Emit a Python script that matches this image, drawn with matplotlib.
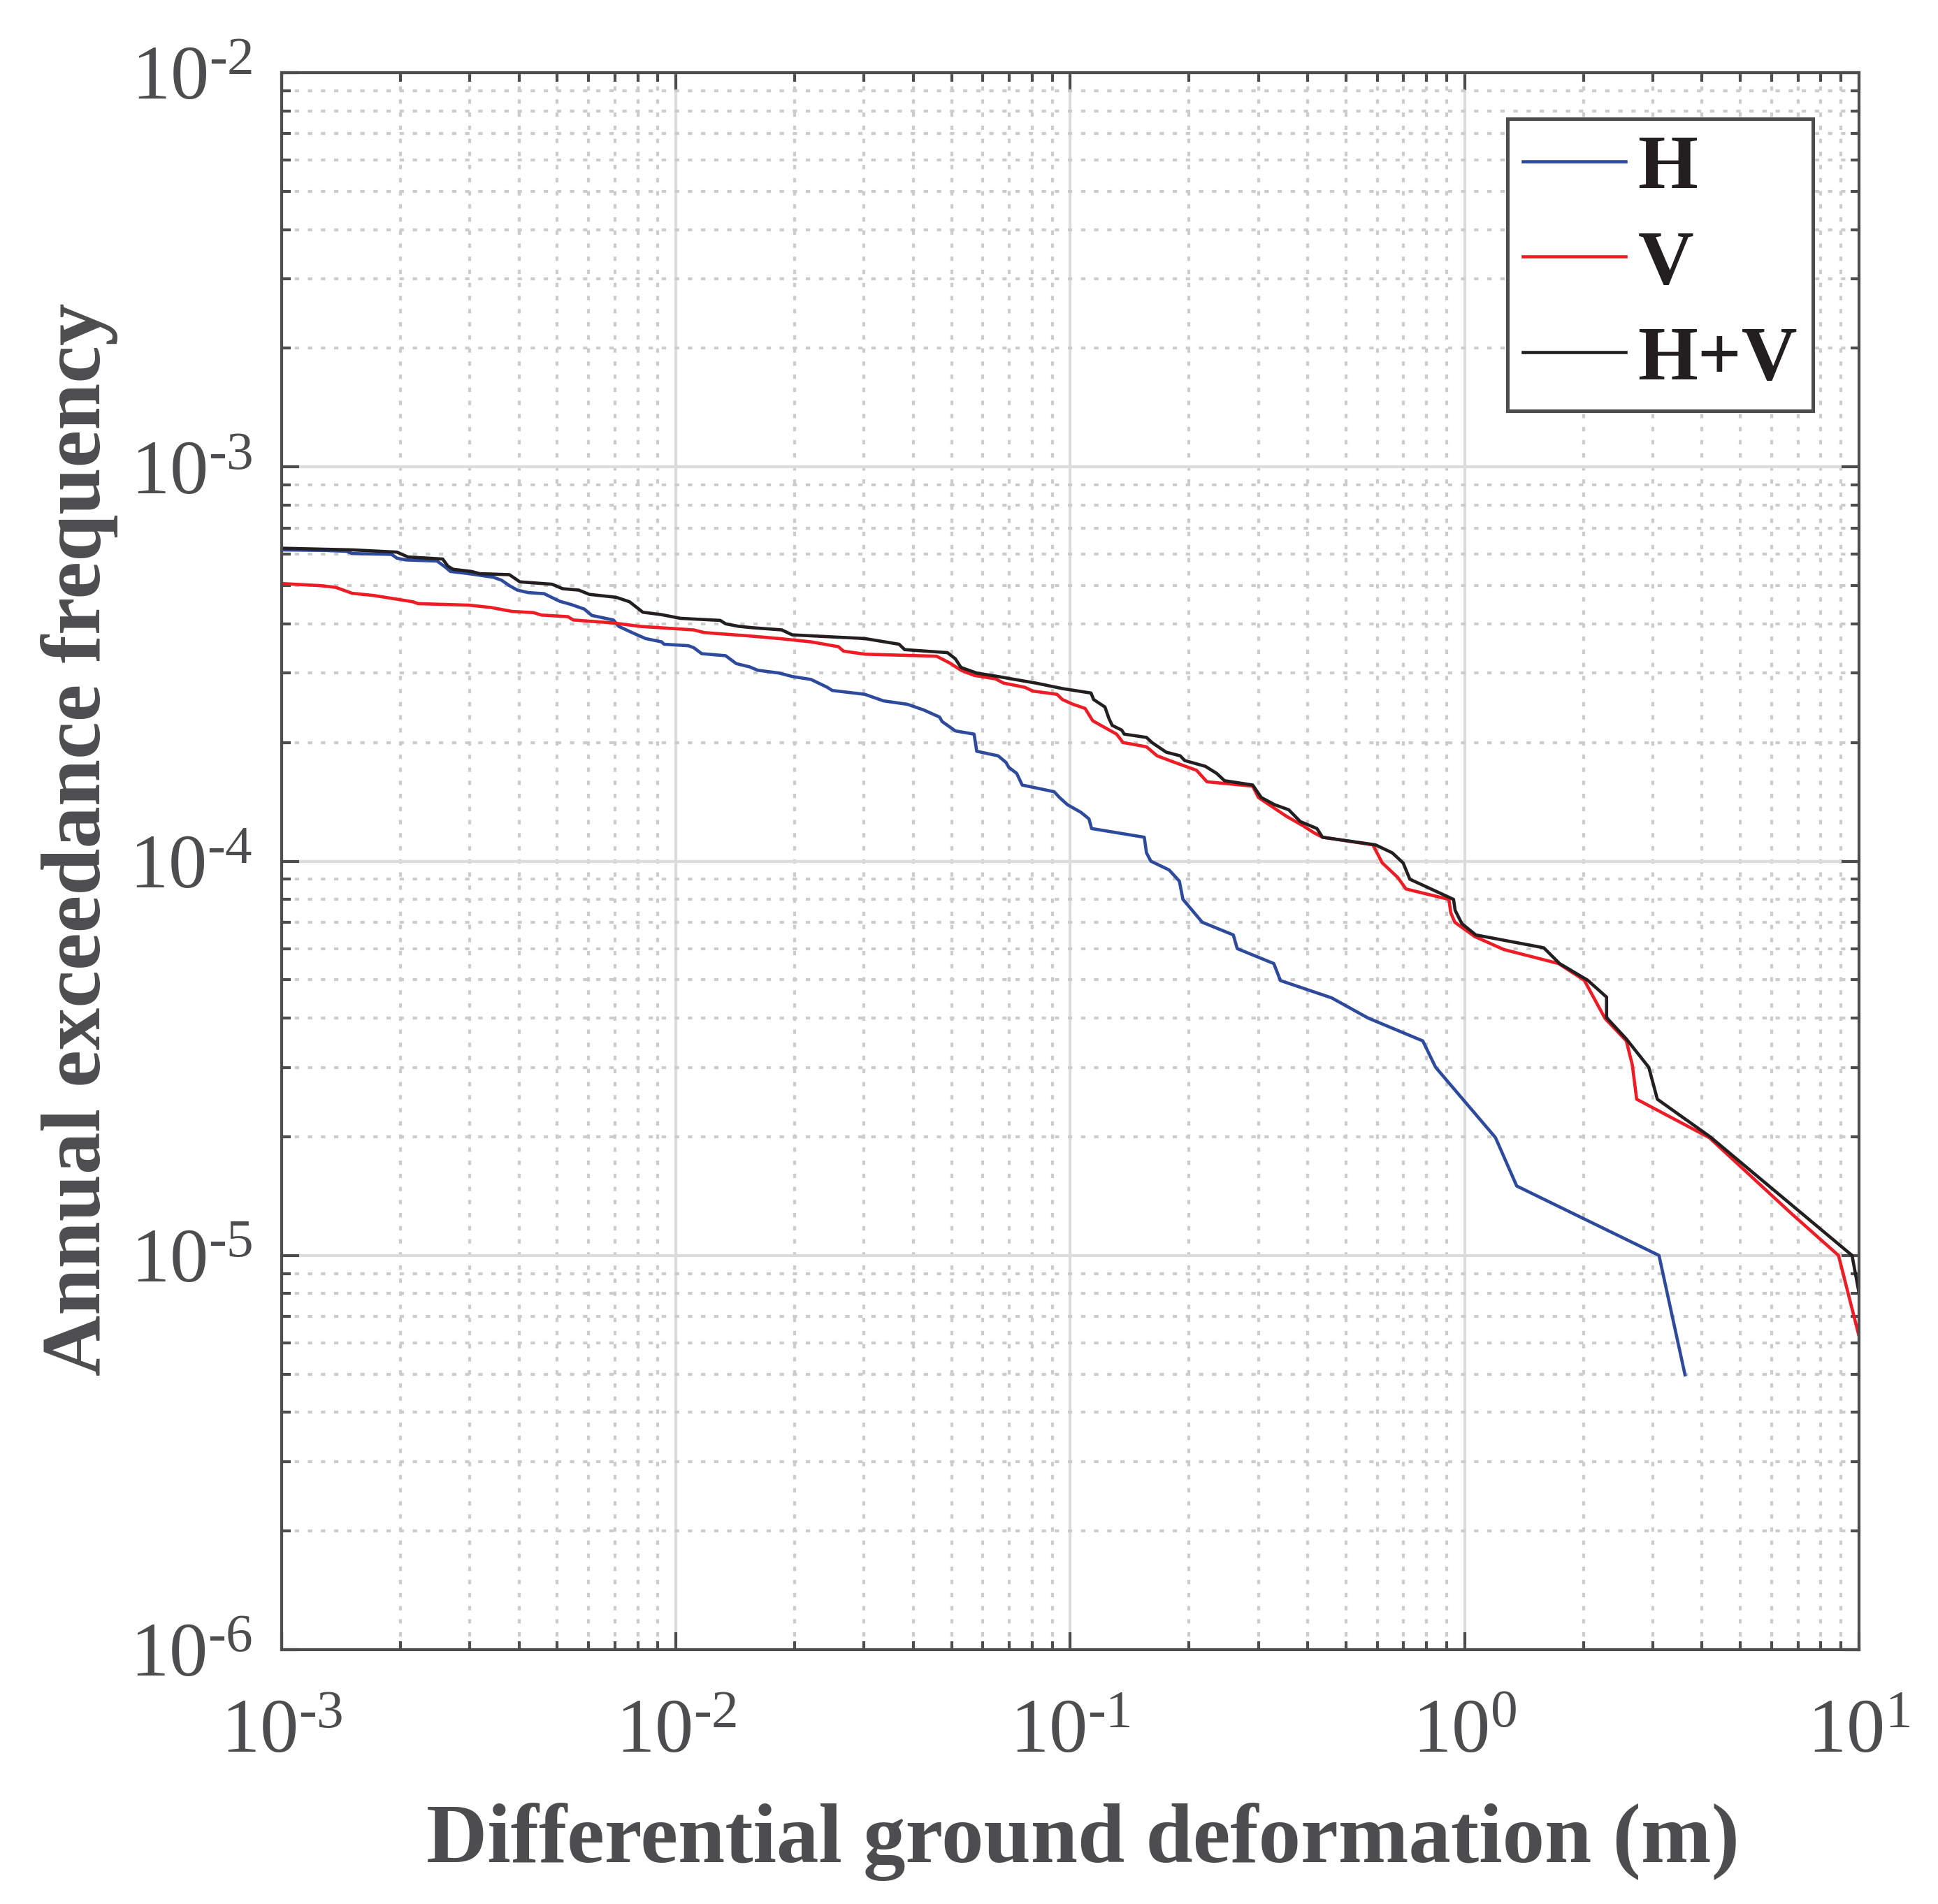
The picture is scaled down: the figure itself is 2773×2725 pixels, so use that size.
import matplotlib
matplotlib.use('Agg')
import matplotlib.pyplot as plt
from matplotlib.ticker import LogLocator, NullFormatter, FuncFormatter
import numpy as np

plt.rcParams['font.family'] = ['Liberation Serif', 'DejaVu Serif']
plt.rcParams['mathtext.fontset'] = 'custom'
plt.rcParams['mathtext.rm'] = 'Liberation Serif'
plt.rcParams['mathtext.it'] = 'Liberation Serif:italic'
plt.rcParams['mathtext.bf'] = 'Liberation Serif:bold'

# ---------------- data ----------------
h_x = [0.001, 0.00129, 0.00146, 0.00151, 0.0019, 0.00196, 0.00206, 0.00248, 0.0026, 0.00268,
       0.00299, 0.00344, 0.00361, 0.00378, 0.00396, 0.00422, 0.00463, 0.00492, 0.00508, 0.00541,
       0.00585, 0.00612, 0.00694, 0.00716, 0.00774, 0.00837, 0.00919, 0.00933, 0.01074, 0.01109,
       0.01162, 0.01336, 0.01422, 0.01538, 0.01611, 0.01827, 0.01972, 0.022, 0.0242, 0.0249,
       0.0301, 0.0336, 0.0386, 0.0424, 0.0466, 0.0473, 0.0511, 0.057, 0.0579, 0.0656,
       0.0687, 0.0698, 0.0731, 0.0755, 0.091, 0.0939, 0.0984, 0.1064, 0.1115, 0.1132,
       0.154, 0.156, 0.160, 0.178, 0.189, 0.193, 0.216, 0.259, 0.265, 0.328,
       0.341, 0.46, 0.569, 0.783, 0.844, 1.197, 1.355, 3.11, 3.62]
h_y = [6.16e-4, 6.14e-4, 6.11e-4, 6.03e-4, 6.00e-4, 5.87e-4, 5.81e-4, 5.77e-4, 5.57e-4, 5.43e-4,
       5.36e-4, 5.25e-4, 5.16e-4, 5.00e-4, 4.87e-4, 4.80e-4, 4.77e-4, 4.63e-4, 4.56e-4, 4.48e-4,
       4.36e-4, 4.20e-4, 4.09e-4, 3.94e-4, 3.80e-4, 3.67e-4, 3.60e-4, 3.55e-4, 3.52e-4, 3.48e-4,
       3.36e-4, 3.32e-4, 3.17e-4, 3.11e-4, 3.05e-4, 3.00e-4, 2.94e-4, 2.89e-4, 2.76e-4, 2.71e-4,
       2.65e-4, 2.55e-4, 2.50e-4, 2.42e-4, 2.32e-4, 2.26e-4, 2.14e-4, 2.10e-4, 1.90e-4, 1.85e-4,
       1.78e-4, 1.73e-4, 1.67e-4, 1.56e-4, 1.50e-4, 1.45e-4, 1.39e-4, 1.33e-4, 1.28e-4, 1.21e-4,
       1.15e-4, 1.05e-4, 1.00e-4, 9.5e-5, 8.9e-5, 8.0e-5, 7.0e-5, 6.5e-5, 6.0e-5, 5.5e-5,
       4.98e-5, 4.5e-5, 4.0e-5, 3.5e-5, 3.0e-5, 1.99e-5, 1.5e-5, 1.0e-5, 4.98e-6]

v_x = [0.001, 0.00125, 0.00137, 0.00151, 0.00171, 0.00193, 0.00215, 0.00222, 0.00299, 0.00339,
       0.00384, 0.00435, 0.00456, 0.00532, 0.00549, 0.00694, 0.00811, 0.01109, 0.0118, 0.01514,
       0.01827, 0.022, 0.0258, 0.0266, 0.0301, 0.0458, 0.0495, 0.0528, 0.057, 0.0646,
       0.0677, 0.0767, 0.0804, 0.0925, 0.0955, 0.1016, 0.109, 0.114, 0.131, 0.136,
       0.156, 0.166, 0.184, 0.209, 0.222, 0.290, 0.300, 0.353, 0.389, 0.415,
       0.436, 0.585, 0.618, 0.676, 0.710, 0.912, 0.922, 0.944, 1.06, 1.256,
       1.73, 2.01, 2.27, 2.57, 2.66, 2.73, 4.17, 6.72, 8.87, 10.0]
v_y = [5.06e-4, 5.00e-4, 4.95e-4, 4.78e-4, 4.72e-4, 4.63e-4, 4.55e-4, 4.50e-4, 4.46e-4, 4.40e-4,
       4.30e-4, 4.27e-4, 4.21e-4, 4.17e-4, 4.09e-4, 4.02e-4, 3.94e-4, 3.86e-4, 3.80e-4, 3.73e-4,
       3.67e-4, 3.60e-4, 3.50e-4, 3.41e-4, 3.35e-4, 3.31e-4, 3.18e-4, 3.05e-4, 2.96e-4, 2.90e-4,
       2.83e-4, 2.76e-4, 2.70e-4, 2.65e-4, 2.57e-4, 2.50e-4, 2.44e-4, 2.27e-4, 2.10e-4, 2.00e-4,
       1.95e-4, 1.85e-4, 1.78e-4, 1.70e-4, 1.59e-4, 1.55e-4, 1.45e-4, 1.30e-4, 1.23e-4, 1.18e-4,
       1.15e-4, 1.10e-4, 9.9e-5, 9.1e-5, 8.5e-5, 8.0e-5, 7.4e-5, 7.0e-5, 6.44e-5, 5.97e-5,
       5.5e-5, 4.99e-5, 3.99e-5, 3.5e-5, 3.05e-5, 2.49e-5, 1.99e-5, 1.28e-5, 1.0e-5, 6.24e-6]

hv_x = [0.001, 0.00151, 0.00196, 0.00209, 0.00256, 0.00264, 0.00272, 0.00303, 0.00318, 0.00378,
        0.00402, 0.00485, 0.00516, 0.00567, 0.00603, 0.00705, 0.00762, 0.00824, 0.00919, 0.01026,
        0.01295, 0.01336, 0.01445, 0.01563, 0.01854, 0.01972, 0.0301, 0.0368, 0.038, 0.0488,
        0.0511, 0.0528, 0.0579, 0.0656, 0.0709, 0.0817, 0.0955, 0.1128, 0.1146, 0.1224,
        0.1253, 0.1277, 0.135, 0.137, 0.156, 0.161, 0.175, 0.190, 0.195, 0.220,
        0.235, 0.246, 0.290, 0.305, 0.330, 0.358, 0.383, 0.422, 0.436, 0.594,
        0.655, 0.698, 0.726, 0.937, 0.946, 0.984, 1.067, 1.587, 1.74, 2.05,
        2.29, 2.29, 2.57, 2.93, 3.08, 4.19, 9.6, 10.0]
hv_y = [6.22e-4, 6.16e-4, 6.08e-4, 5.91e-4, 5.84e-4, 5.60e-4, 5.50e-4, 5.43e-4, 5.36e-4, 5.33e-4,
        5.11e-4, 5.04e-4, 4.91e-4, 4.87e-4, 4.75e-4, 4.67e-4, 4.55e-4, 4.28e-4, 4.22e-4, 4.13e-4,
        4.08e-4, 4.00e-4, 3.94e-4, 3.91e-4, 3.86e-4, 3.75e-4, 3.67e-4, 3.55e-4, 3.44e-4, 3.38e-4,
        3.26e-4, 3.10e-4, 3.00e-4, 2.94e-4, 2.90e-4, 2.83e-4, 2.74e-4, 2.67e-4, 2.57e-4, 2.46e-4,
        2.30e-4, 2.21e-4, 2.15e-4, 2.10e-4, 2.06e-4, 2.00e-4, 1.89e-4, 1.85e-4, 1.80e-4, 1.74e-4,
        1.67e-4, 1.60e-4, 1.56e-4, 1.45e-4, 1.39e-4, 1.35e-4, 1.26e-4, 1.21e-4, 1.15e-4, 1.10e-4,
        1.05e-4, 9.9e-5, 9.0e-5, 8.0e-5, 7.5e-5, 6.94e-5, 6.5e-5, 6.03e-5, 5.5e-5, 4.99e-5,
        4.52e-5, 4.01e-5, 3.54e-5, 3.0e-5, 2.49e-5, 2.0e-5, 1.0e-5, 8.03e-6]

series_labels = ['H', 'V', 'H+V']
x_label = 'Differential ground deformation (m)'
y_label = 'Annual exceedance frequency'

# ---------------- figure ----------------
W, H = 2773, 2725
fig = plt.figure(figsize=(W / 300, H / 300), dpi=300)
ax = fig.add_axes([403 / W, 1 - 2361 / H, 2257 / W, 2257 / H])

gray = '#4d4d4f'
ax.plot(h_x, h_y, color='#2e4a9d', lw=1.1, label=series_labels[0])
ax.plot(v_x, v_y, color='#ee1c24', lw=1.1, label=series_labels[1])
ax.plot(hv_x, hv_y, color='#231f20', lw=1.1, label=series_labels[2])

ax.set_xscale('log')
ax.set_yscale('log')
ax.set_xlim(1e-3, 1e1)
ax.set_ylim(1e-6, 1e-2)


def pow_label(v, pos):
    n = int(round(np.log10(v)))
    if n < 0:
        return '$10^{\u2010' + str(-n) + '}$'
    return '$10^{' + str(n) + '}$'


for axis in (ax.xaxis, ax.yaxis):
    axis.set_major_locator(LogLocator(base=10, numticks=20))
    axis.set_minor_locator(LogLocator(base=10, subs=np.arange(2, 10), numticks=20))
    axis.set_minor_formatter(NullFormatter())
    axis.set_major_formatter(FuncFormatter(pow_label))

ax.grid(which='major', color='#dcdcdc', lw=1.0, ls='-')
ax.grid(which='minor', color='#cccccc', lw=1.0, ls=(0, (1.5, 3)))
ax.set_axisbelow(True)

ax.tick_params(which='both', direction='in', top=True, right=True, color=gray,
               width=1.0, labelcolor=gray, labelsize=26.5)
ax.tick_params(which='major', length=6)
ax.tick_params(which='minor', length=3)
ax.tick_params(axis='x', which='major', pad=17)
ax.tick_params(axis='y', which='major', pad=10)
for s in ax.spines.values():
    s.set_color(gray)
    s.set_linewidth(1.0)

ax.set_xlabel(x_label, fontsize=29, fontweight='bold', color=gray)
ax.set_ylabel(y_label, fontsize=29, fontweight='bold', color=gray)
ax.xaxis.label.set_va('baseline')
ax.yaxis.label.set_va('baseline')
ax.xaxis.set_label_coords(0.508, -0.1347)
ax.yaxis.set_label_coords(-0.1152, 0.514)

leg = ax.legend(loc='upper right', bbox_to_anchor=(0.9708, 0.9708), borderaxespad=0,
                prop={'weight': 'bold', 'size': 26.5}, handlelength=1.33, handletextpad=0.16,
                borderpad=0.2, labelspacing=0.33, fancybox=False, framealpha=1)
leg.get_frame().set_edgecolor(gray)
leg.get_frame().set_linewidth(1.2)
for t in leg.get_texts():
    t.set_color('#231f20')

fig.savefig('out.png', dpi=300)
